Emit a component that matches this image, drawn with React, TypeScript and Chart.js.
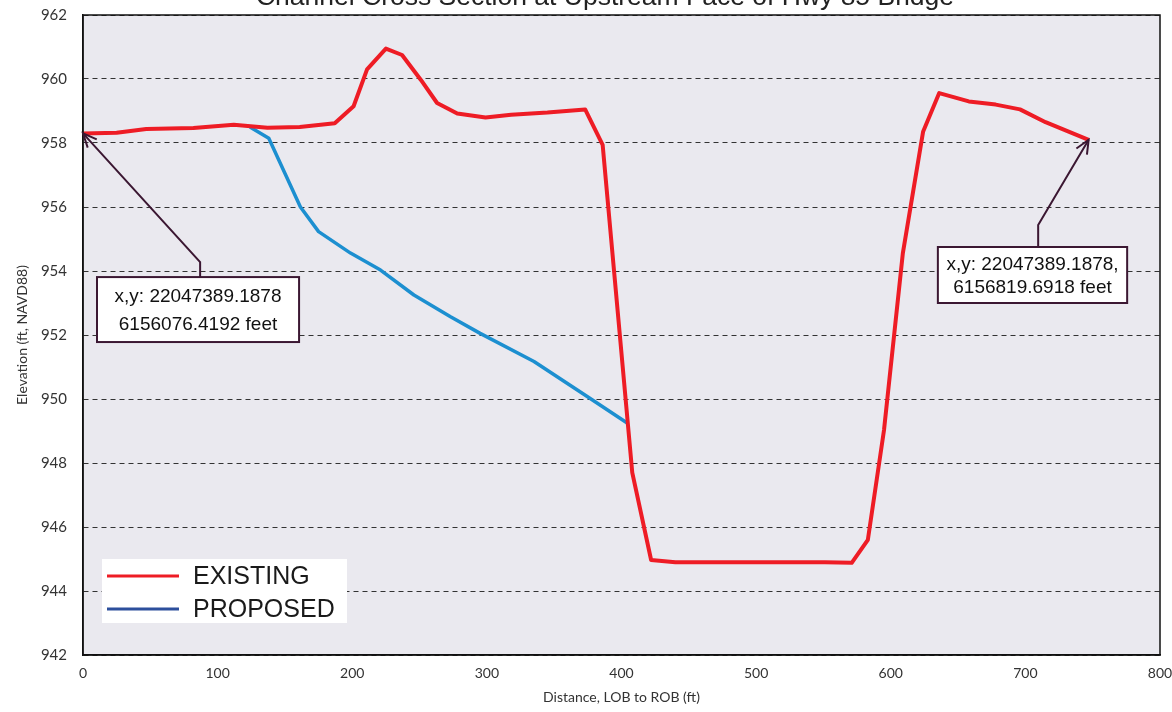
import React, { useEffect, useRef } from "react";
import { Chart, registerables } from "chart.js";

Chart.register(...registerables);

// ---- data ----
const TITLE = "Channel Cross Section at Upstream Face of Hwy 85 Bridge";
const X_TITLE = "Distance, LOB to ROB (ft)";
const Y_TITLE = "Elevation (ft, NAVD88)";

const SERIES_NAMES = ["EXISTING", "PROPOSED"];

const existingX = [0, 25, 47, 82, 112, 137, 161, 187, 201, 211, 225, 237, 251, 263, 278, 299, 318, 345, 373, 386, 408, 422, 440, 551, 571, 583, 595, 609, 624, 636, 658, 678, 696, 715, 747];
const existingY = [958.3, 958.32, 958.44, 958.47, 958.57, 958.48, 958.5, 958.62, 959.15, 960.3, 960.95, 960.75, 959.97, 959.25, 958.92, 958.8, 958.88, 958.95, 959.05, 957.94, 947.7, 944.97, 944.9, 944.9, 944.88, 945.6, 949.03, 954.56, 958.35, 959.56, 959.3, 959.2, 959.05, 958.65, 958.1];

const proposedX = [124, 138, 161.5, 175, 198.7, 221, 245.8, 273, 295, 335, 374.8, 404.5];
const proposedY = [958.5, 958.15, 956.0, 955.23, 954.56, 954.03, 953.25, 952.57, 952.05, 951.17, 950.07, 949.24];

const X_MIN = 0;
const X_MAX = 800;
const X_STEP = 100;
const Y_MIN = 942;
const Y_MAX = 962;
const Y_STEP = 2;

const LEFT_NOTE_TEXT = ["x,y: 22047389.1878", "6156076.4192 feet"];
const RIGHT_NOTE_TEXT = ["x,y: 22047389.1878,", "6156819.6918 feet"];

// ---- styles / layout ----
const RED = "#ee1c25";
const BLUE = "#1c8fd0";
const LEGEND_BLUE = "#2c4f9c";
const PLOT_BG = "#eae9ef";
const NOTE_COLOR = "#3b1732";
const SANS = "'Liberation Sans', Arial, sans-serif";
const AXIS_FONT = "Lato, 'Open Sans', sans-serif";

// annotation geometry in data units: box [xLeft, yTop, xRight, yBottom], bend point [x, y]
const NOTES = [
  { text: LEFT_NOTE_TEXT, tip: [existingX[0], existingY[0]], bend: [87, 954.28], box: [10.4, 953.81, 160.5, 951.78] },
  {
    text: RIGHT_NOTE_TEXT,
    tip: [existingX[existingX.length - 1], existingY[existingY.length - 1]],
    bend: [709.5, 955.44],
    box: [635, 954.75, 775.6, 953.0],
  },
];

const decorPlugin = {
  id: "decor",
  beforeDraw(chart: any) {
    const { ctx, chartArea } = chart;
    const { left, top, right, bottom } = chartArea;
    ctx.save();
    ctx.fillStyle = "#ffffff";
    ctx.fillRect(0, 0, chart.width, chart.height);
    ctx.fillStyle = PLOT_BG;
    ctx.fillRect(left, top, right - left, bottom - top);
    ctx.restore();
  },
  afterDraw(chart: any) {
    const { ctx, chartArea } = chart;
    const { left, top, right, bottom } = chartArea;
    const xs = chart.scales.x;
    const ys = chart.scales.y;

    // frame
    ctx.save();
    ctx.strokeStyle = "#111";
    ctx.lineWidth = 1.5;
    ctx.strokeRect(left, top, right - left, bottom - top);
    ctx.restore();

    // title (partially cut at top of page)
    ctx.save();
    ctx.fillStyle = "#222";
    ctx.font = `26.5px ${SANS}`;
    ctx.textAlign = "center";
    ctx.textBaseline = "alphabetic";
    ctx.fillText(TITLE, 605, 5);
    ctx.restore();

    // annotations
    NOTES.forEach((n) => {
      const tx = xs.getPixelForValue(n.tip[0]);
      const ty = ys.getPixelForValue(n.tip[1]);
      const bx = xs.getPixelForValue(n.bend[0]);
      const by = ys.getPixelForValue(n.bend[1]);
      const x0 = xs.getPixelForValue(n.box[0]);
      const y0 = ys.getPixelForValue(n.box[1]);
      const x1 = xs.getPixelForValue(n.box[2]);
      const y1 = ys.getPixelForValue(n.box[3]);
      ctx.save();
      ctx.strokeStyle = NOTE_COLOR;
      ctx.lineWidth = 2;
      ctx.beginPath();
      ctx.moveTo(bx, y0);
      ctx.lineTo(bx, by);
      ctx.lineTo(tx, ty);
      ctx.stroke();
      const ang = Math.atan2(by - ty, bx - tx);
      const len = 15;
      const spread = 0.42;
      ctx.beginPath();
      ctx.moveTo(tx + len * Math.cos(ang + spread), ty + len * Math.sin(ang + spread));
      ctx.lineTo(tx, ty);
      ctx.lineTo(tx + len * Math.cos(ang - spread), ty + len * Math.sin(ang - spread));
      ctx.stroke();
      ctx.fillStyle = "#ffffff";
      ctx.fillRect(x0, y0, x1 - x0, y1 - y0);
      ctx.strokeRect(x0, y0, x1 - x0, y1 - y0);
      ctx.fillStyle = "#111";
      ctx.font = `19px ${SANS}`;
      ctx.textAlign = "center";
      ctx.textBaseline = "middle";
      const cx = (x0 + x1) / 2;
      const h = y1 - y0;
      ctx.fillText(n.text[0], cx, y0 + h * 0.31);
      ctx.fillText(n.text[1], cx, y0 + h * 0.73);
      ctx.restore();
    });

    // legend
    const lx = left + 19;
    const ly = bottom - 96;
    const lw = 245;
    const lh = 64;
    ctx.save();
    ctx.fillStyle = "#ffffff";
    ctx.fillRect(lx, ly, lw, lh);
    const legendColors = [RED, LEGEND_BLUE];
    chart.data.datasets.forEach((ds: any, i: number) => {
      const yy = ly + 17 + i * 33;
      ctx.strokeStyle = legendColors[i];
      ctx.lineWidth = 3;
      ctx.beginPath();
      ctx.moveTo(lx + 5, yy);
      ctx.lineTo(lx + 77, yy);
      ctx.stroke();
      ctx.fillStyle = "#1a1a1a";
      ctx.font = `25px ${SANS}`;
      ctx.textAlign = "left";
      ctx.textBaseline = "middle";
      ctx.fillText(ds.label, lx + 91, yy + 1);
    });
    ctx.restore();
  },
};

export default function App() {
  const ref = useRef<HTMLCanvasElement | null>(null);

  useEffect(() => {
    if (!ref.current) return;
    const chart = new Chart(ref.current, {
      type: "line",
      data: {
        datasets: [
          {
            label: SERIES_NAMES[0],
            data: existingX.map((x, i) => ({ x, y: existingY[i] })),
            borderColor: RED,
            borderWidth: 4,
            pointRadius: 0,
            tension: 0,
            borderJoinStyle: "round",
            order: 0,
          },
          {
            label: SERIES_NAMES[1],
            data: proposedX.map((x, i) => ({ x, y: proposedY[i] })),
            borderColor: BLUE,
            borderWidth: 3.5,
            pointRadius: 0,
            tension: 0,
            borderJoinStyle: "round",
            order: 1,
          },
        ],
      },
      options: {
        responsive: false,
        animation: false,
        events: [],
        layout: { padding: { top: 15, right: 12, left: 0, bottom: 0 } },
        plugins: {
          legend: { display: false },
          title: { display: false },
          tooltip: { enabled: false },
        },
        scales: {
          x: {
            type: "linear",
            min: X_MIN,
            max: X_MAX,
            ticks: { stepSize: X_STEP, padding: 10, color: "#333", font: { family: AXIS_FONT, size: 14 }, maxRotation: 0 },
            grid: { display: false, drawTicks: false },
            border: { display: true, color: "#111", width: 1.5 },
            title: { display: true, text: X_TITLE, color: "#333", font: { family: AXIS_FONT, size: 14 }, padding: { top: 0, bottom: 6 } },
            afterFit: (s: any) => {
              s.height = 57;
              s.paddingLeft = 0;
              s.paddingRight = 0;
              s.paddingTop = 0;
              s.paddingBottom = 0;
            },
          },
          y: {
            type: "linear",
            min: Y_MIN,
            max: Y_MAX,
            ticks: { stepSize: Y_STEP, padding: 16, color: "#333", font: { family: AXIS_FONT, size: 15 } },
            grid: { display: true, drawTicks: false, color: "#333", lineWidth: 1 },
            border: { display: true, color: "#111", width: 1.5, dash: [5, 4] },
            title: { display: true, text: Y_TITLE, color: "#333", font: { family: AXIS_FONT, size: 14 }, padding: { top: 14, bottom: 0 } },
            afterFit: (s: any) => {
              s.width = 83;
              s.paddingLeft = 0;
              s.paddingRight = 0;
              s.paddingTop = 0;
              s.paddingBottom = 0;
            },
          },
        },
      },
      plugins: [decorPlugin],
    } as any);
    return () => chart.destroy();
  }, []);

  return (
    <div style={{ position: "absolute", left: 0, top: 0, width: 1172, height: 712 }}>
      <canvas ref={ref} width={1172} height={712} style={{ display: "block" }} />
    </div>
  );
}
